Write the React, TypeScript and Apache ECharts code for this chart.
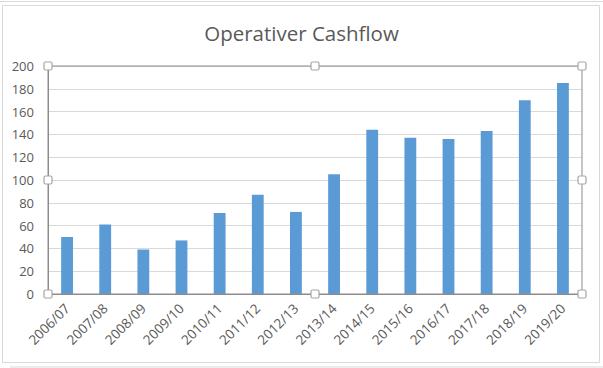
import React, { useEffect, useRef } from "react";
import * as echarts from "echarts";

const categories = [
  "2006/07", "2007/08", "2008/09", "2009/10", "2010/11", "2011/12", "2012/13",
  "2013/14", "2014/15", "2015/16", "2016/17", "2017/18", "2018/19", "2019/20",
];
const cashflow = [50, 61, 39, 47, 71, 87, 72, 105, 144, 137, 136, 143, 170, 185];
const yTicks = [0, 20, 40, 60, 80, 100, 120, 140, 160, 180, 200];

const GL = 48, GR = 582, GT = 66, GB = 294;

function handle(x: number, y: number) {
  return {
    type: "rect",
    shape: { x: x - 4, y: y - 4, width: 8, height: 8, r: 1.5 },
    style: { fill: "#ffffff", stroke: "#a6a6a6", lineWidth: 1.2 },
    z: 100,
  };
}

export default function App() {
  const ref = useRef<HTMLDivElement>(null);
  useEffect(() => {
    const chart = echarts.init(ref.current!, null, { renderer: "svg" });
    const midX = (GL + GR) / 2, midY = (GT + GB) / 2;
    chart.setOption({
      animation: false,
      backgroundColor: "#ffffff",
      title: {
        text: "Operativer Cashflow",
        left: "center",
        top: 17,
        textStyle: { fontFamily: "Open Sans", fontSize: 20.5, fontWeight: "normal", color: "#595959" },
      },
      grid: { left: GL, right: 603 - GR, top: GT, bottom: 368 - GB, containLabel: false },
      xAxis: {
        type: "category",
        data: categories,
        axisLine: { lineStyle: { color: "#8c8c8c", width: 1 } },
        axisTick: { show: false },
        axisLabel: {
          rotate: 45,
          interval: 0,
          margin: 12,
          fontFamily: "Open Sans",
          fontSize: 13.5,
          color: "#595959",
        },
      },
      yAxis: {
        type: "value",
        min: yTicks[0],
        max: yTicks[yTicks.length - 1],
        interval: 20,
        axisLine: { show: true, lineStyle: { color: "#8c8c8c", width: 1 } },
        axisTick: { show: false },
        splitLine: { lineStyle: { color: "#d9d9d9", width: 1 } },
        axisLabel: { fontFamily: "Open Sans", fontSize: 13, color: "#595959", margin: 14 },
      },
      series: [
        {
          type: "bar",
          data: cashflow,
          barWidth: "31%",
          itemStyle: { color: "#5b9bd5" },
        },
      ],
      graphic: [
        {
          type: "rect",
          shape: { x: 2.5, y: 5.5, width: 597, height: 357 },
          style: { fill: "none", stroke: "#d9d9d9", lineWidth: 1 },
          z: 90,
        },
        {
          type: "line",
          shape: { x1: 0, y1: 1.5, x2: 603, y2: 1.5 },
          style: { stroke: "#d9d9d9", lineWidth: 1 },
          z: 90,
        },
        {
          type: "line",
          shape: { x1: 10, y1: 367, x2: 603, y2: 367 },
          style: { stroke: "#d9d9d9", lineWidth: 1 },
          z: 90,
        },
        {
          type: "rect",
          shape: { x: GL, y: GT, width: GR - GL, height: GB - GT },
          style: { fill: "none", stroke: "#8c8c8c", lineWidth: 1 },
          z: 95,
        },
        handle(GL, GT), handle(midX, GT), handle(GR, GT),
        handle(GL, midY), handle(GR, midY),
        handle(GL, GB), handle(midX, GB), handle(GR, GB),
      ],
    });
    return () => chart.dispose();
  }, []);
  return (
    <div
      ref={ref}
      style={{ position: "fixed", left: 0, top: 0, width: 603, height: 368 }}
    />
  );
}
